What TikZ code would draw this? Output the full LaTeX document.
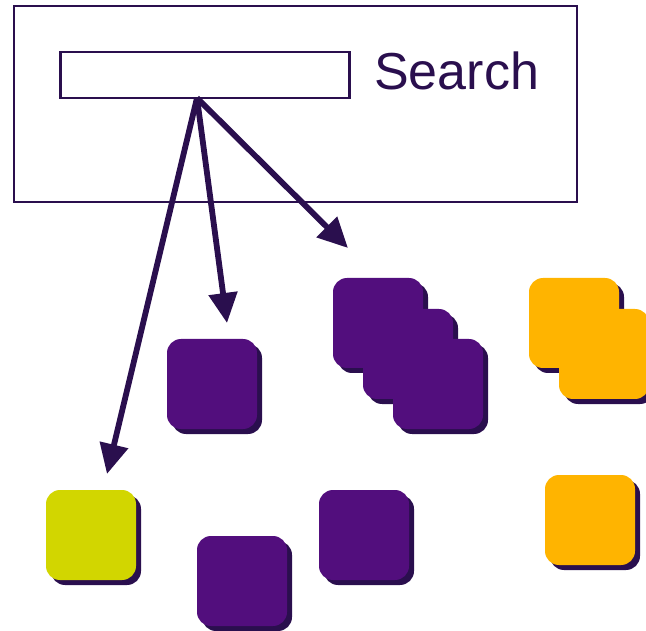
\documentclass[tikz,border=0pt]{standalone}
\usepackage{fontspec}
\setmainfont{Liberation Sans}
\usetikzlibrary{arrows.meta,shadows}
\definecolor{ink}{HTML}{2A0F4E}
\definecolor{shade}{HTML}{2A0F4E}
\definecolor{grape}{HTML}{520E7D}
\definecolor{lime}{HTML}{D2D600}
\definecolor{amber}{HTML}{FFB400}
\tikzset{
  frame/.style={draw=ink, line width=2.5pt, inner sep=0pt},
  tile/.style={rounded corners=14pt, minimum width=90pt, minimum height=90pt, inner sep=0pt,
    drop shadow={shadow xshift=5pt, shadow yshift=-5pt, fill=shade, opacity=1}},
  link/.style={draw=ink, line width=5.8pt, -{Triangle[length=30pt,width=28pt]}}
}
\begin{document}
\begin{tikzpicture}[x=1pt,y=-1pt]
\useasboundingbox (0,0) rectangle (646,631);
\node[frame, minimum width=563pt, minimum height=196pt] (outer) at (295.5,104) {};
\node[frame, minimum width=289pt, minimum height=46pt] (search) at (205,75) {};
\node[anchor=base west, inner sep=0pt, text=ink, font=\fontsize{52}{60}\selectfont] (label) at (374,90) {Search};
% tiles
\node[tile, fill=grape] (s1) at (378,323) {};
\node[tile, fill=grape] (s2) at (408,354) {};
\node[tile, fill=grape] (s3) at (438,384) {};
\node[tile, fill=amber] (o1) at (574,323) {};
\node[tile, fill=amber] (o2) at (604,354) {};
\node[tile, fill=grape] (p1) at (212,384) {};
\node[tile, fill=lime] (y1) at (91,535) {};
\node[tile, fill=grape] (p2) at (242,581) {};
\node[tile, fill=grape] (p3) at (364,535) {};
\node[tile, fill=amber] (o3) at (590,520) {};
% arrows
\coordinate (src) at (197,98);
\coordinate (t1) at (107,474);
\coordinate (t2) at (227,323);
\coordinate (t3) at (348,248);
\draw[link] (src) -- (t1);
\draw[link] (src) -- (t2);
\draw[link] (src) -- (t3);
\end{tikzpicture}
\end{document}
